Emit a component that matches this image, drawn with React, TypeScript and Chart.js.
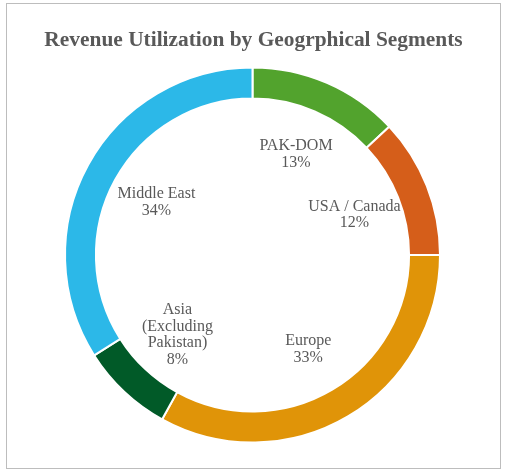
import React, { useEffect, useRef } from "react";
import { Chart, registerables } from "chart.js";

Chart.register(...registerables);

const titleText = "Revenue Utilization by Geogrphical Segments";
const categories = ["PAK-DOM", "USA / Canada", "Europe", "Asia (Excluding Pakistan)", "Middle East"];
const labelLines = [["PAK-DOM"], ["USA / Canada"], ["Europe"], ["Asia", "(Excluding", "Pakistan)"], ["Middle East"]];
const shares = [13, 12, 33, 8, 34];
const colors = ["#52a32d", "#d55e1a", "#e09408", "#015a28", "#2cb8e8"];

const labelPlugin = {
  id: "innerLabels",
  afterDraw(chart: any) {
    const { ctx } = chart;
    const meta = chart.getDatasetMeta(0);
    ctx.save();
    ctx.fillStyle = "#595959";
    ctx.textAlign = "center";
    ctx.textBaseline = "middle";
    ctx.font = "bold 21.4px 'Liberation Serif', serif";
    ctx.fillText(titleText, chart.width / 2, 40);
    ctx.font = "16px 'Liberation Serif', serif";
    const lh = 16.5;
    meta.data.forEach((arc: any, i: number) => {
      const { x, y, startAngle, endAngle, innerRadius } = arc.getProps(["x", "y", "startAngle", "endAngle", "innerRadius"], true);
      const mid = (startAngle + endAngle) / 2;
      const r = innerRadius * 0.7;
      const cx = x + Math.cos(mid) * r;
      const cy = y + Math.sin(mid) * r;
      const lines = [...labelLines[i], shares[i] + "%"];
      const top = cy - ((lines.length - 1) * lh) / 2;
      lines.forEach((t, k) => ctx.fillText(t, cx, top + k * lh));
    });
    ctx.restore();
  },
};

export default function App() {
  const ref = useRef<HTMLCanvasElement>(null);
  useEffect(() => {
    if (!ref.current) return;
    const chart = new Chart(ref.current, {
      type: "doughnut",
      data: {
        labels: categories,
        datasets: [
          {
            data: shares,
            backgroundColor: colors,
            borderColor: "#ffffff",
            borderWidth: 2,
          },
        ],
      },
      options: {
        responsive: false,
        animation: false,
        cutout: "83.5%",
        layout: { padding: { left: 64, right: 66, bottom: 30.5, top: 66.5 } },
        plugins: {
          legend: { display: false },
          tooltip: { enabled: false },
          title: { display: false },
        },
      },
      plugins: [labelPlugin],
    });
    return () => chart.destroy();
  }, []);
  return (
    <div style={{ position: "absolute", left: 0, top: 0, width: 507, height: 474, background: "#fff" }}>
      <div
        style={{
          position: "absolute",
          left: 6,
          top: 3,
          width: 493,
          height: 464,
          border: "1.5px solid #bdbdbd",
        }}
      />
      <canvas ref={ref} width={507} height={474} style={{ position: "absolute", left: 0, top: 0 }} />
    </div>
  );
}
